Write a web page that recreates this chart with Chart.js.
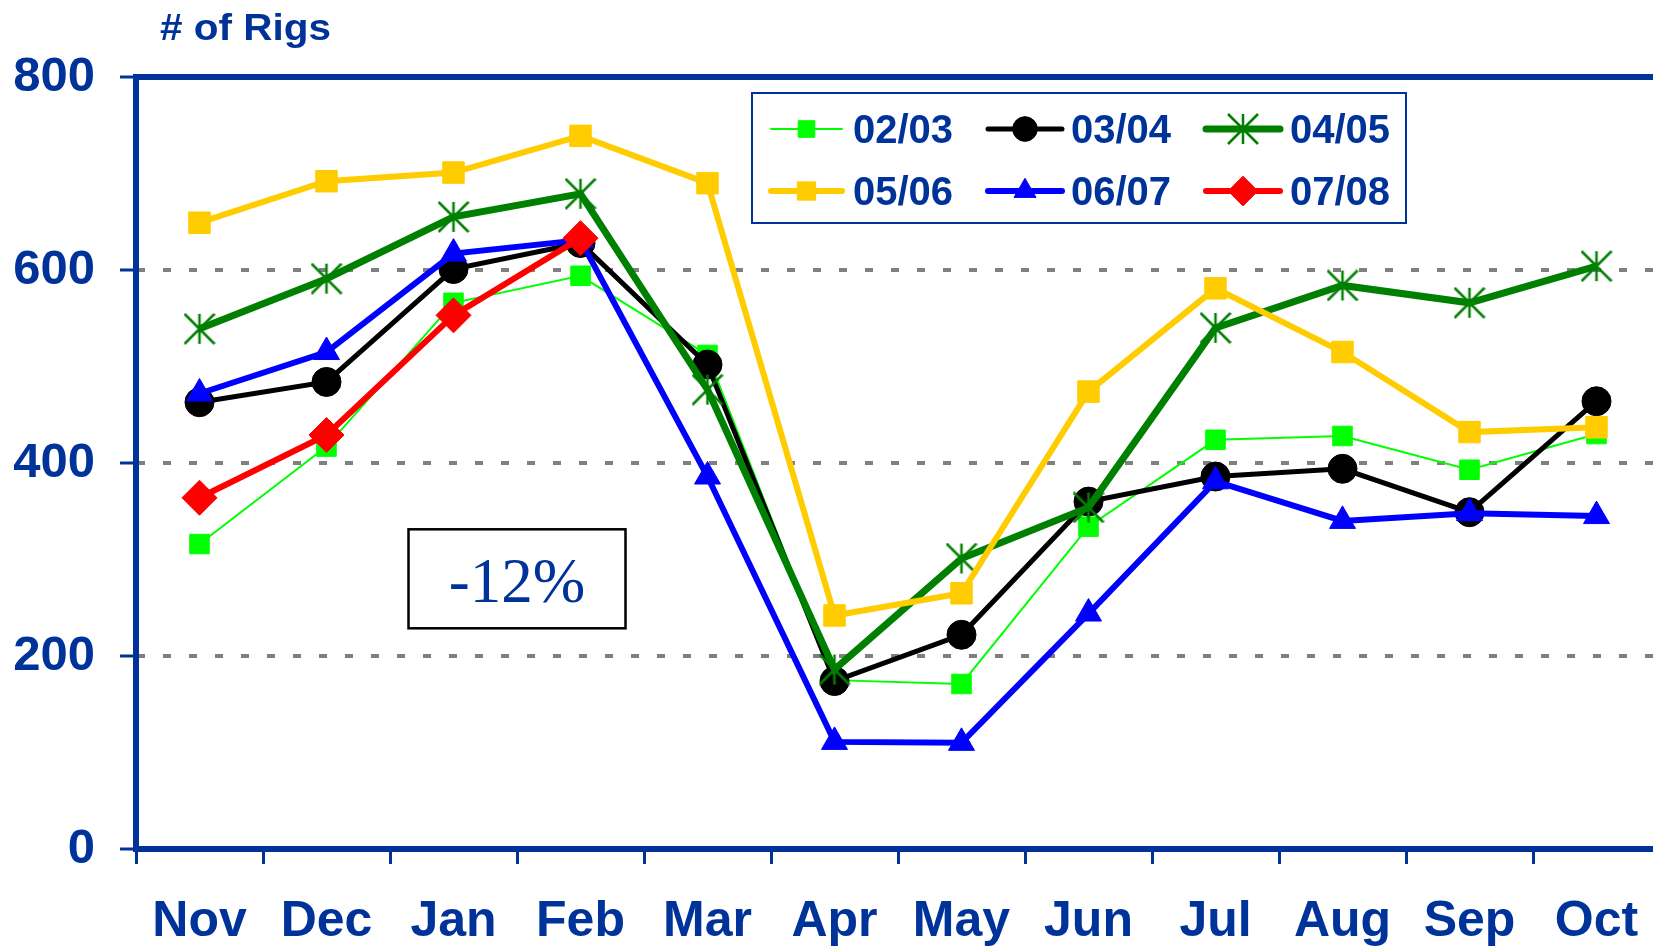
<!DOCTYPE html>
<html><head><meta charset="utf-8">
<script src="https://cdn.jsdelivr.net/npm/chart.js@4.4.0/dist/chart.umd.min.js"></script>
<style>html,body{margin:0;padding:0;overflow:hidden;background:#fff;width:1653px;height:948px}canvas{display:block}</style>
</head><body>
<canvas id="c" width="1680" height="948"></canvas>
<script>
const months = ['Nov','Dec','Jan','Feb','Mar','Apr','May','Jun','Jul','Aug','Sep','Oct'];
const seriesNames = ['02/03','03/04','04/05','05/06','06/07','07/08'];
const s0203 = [316,417,566,594,512,175,171,334,424,428,393,430];
const s0304 = [463,484,601,628,502,174,222,360,386,394,349,464];
const s0405 = [539,591,655,679,476,186,301,354,540,584,566,604];
const s0506 = [649,692,701,739,690,242,265,474,581,515,432,437];
const s0607 = [472,515,617,631,386,111,110,244,381,340,348,345];
const s0708 = [364,429,553,633];
const yMin = 0, yMax = 800, yStep = 200;
const yTitle = '# of Rigs';
const annotationText = '-12%';

const BLUE = '#003399';
const FONT = '"Liberation Sans", Arial, sans-serif';

function makeAsterisk(size, color, lw){
  const c = document.createElement('canvas'); c.width = c.height = size;
  const g = c.getContext('2d'); g.strokeStyle = color; g.lineWidth = lw; g.lineCap = 'butt';
  const m = 1, s = size;
  g.beginPath();
  g.moveTo(s/2, m); g.lineTo(s/2, s-m);
  g.moveTo(m, m); g.lineTo(s-m, s-m);
  g.moveTo(s-m, m); g.lineTo(m, s-m);
  g.stroke();
  return c;
}
const asterisk = makeAsterisk(32, '#008000', 2.5);

const styles = [
  {color:'#00FF00', width:2, pointStyle:'rect', radius:13.8},
  {color:'#000000', width:5, pointStyle:'circle', radius:14.5},
  {color:'#008000', width:7, pointStyle:asterisk, radius:16},
  {color:'#FFCC00', width:6, pointStyle:'rect', radius:15.2},
  {color:'#0000FF', width:6, pointStyle:'triangle', radius:15},
  {color:'#FF0000', width:6, pointStyle:'rectRot', radius:17.5}
];
const seriesData = [s0203, s0304, s0405, s0506, s0607, s0708];

const datasets = seriesNames.map((name, i) => ({
  label: name,
  data: seriesData[i],
  borderColor: styles[i].color,
  backgroundColor: styles[i].color,
  borderWidth: styles[i].width,
  pointStyle: styles[i].pointStyle,
  pointRadius: styles[i].radius,
  pointHoverRadius: styles[i].radius,
  pointBackgroundColor: styles[i].color,
  pointBorderColor: styles[i].color,
  pointBorderWidth: 1,
  tension: 0,
  fill: false,
  order: seriesNames.length - i
}));

const decor = {
  id: 'decor',
  afterDatasetsDraw(chart){
    const {ctx, chartArea: a, scales: {x, y}} = chart;
    ctx.save();
    // top frame line
    ctx.strokeStyle = BLUE; ctx.lineWidth = 6;
    ctx.beginPath(); ctx.moveTo(a.left - 3, a.top); ctx.lineTo(a.right, a.top); ctx.stroke();

    // title
    ctx.fillStyle = BLUE; ctx.font = 'bold 36px ' + FONT; ctx.textBaseline = 'alphabetic'; ctx.textAlign = 'left';
    const tw = ctx.measureText(yTitle).width;
    ctx.save(); ctx.translate(160, 40); ctx.scale(171 / tw, 1); ctx.fillText(yTitle, 0, 0); ctx.restore();

    // annotation box
    const cx = (x.getPixelForValue(2) + x.getPixelForValue(3)) / 2;
    const cy = y.getPixelForValue(280);
    const bw = 217, bh = 99;
    ctx.fillStyle = '#fff'; ctx.fillRect(cx - bw/2, cy - bh/2, bw, bh);
    ctx.strokeStyle = '#000'; ctx.lineWidth = 2.5; ctx.strokeRect(cx - bw/2, cy - bh/2, bw, bh);
    ctx.fillStyle = BLUE; ctx.font = '63px "Liberation Serif", "Times New Roman", serif';
    ctx.textAlign = 'center'; ctx.textBaseline = 'alphabetic';
    ctx.fillText(annotationText, cx, cy + 23);

    // legend
    const lx0 = 752, ly0 = 93, lx1 = 1406, ly1 = 223;
    ctx.fillStyle = '#fff'; ctx.fillRect(lx0, ly0, lx1 - lx0, ly1 - ly0);
    ctx.strokeStyle = BLUE; ctx.lineWidth = 2; ctx.strokeRect(lx0, ly0, lx1 - lx0, ly1 - ly0);
    const colL = [771, 988, 1206], colR = [842, 1062, 1280], colT = [853, 1071, 1290], rowY = [129, 191];
    chart.data.datasets.forEach((ds, i) => {
      const c = i % 3, r = Math.floor(i / 3);
      const yy = rowY[r];
      ctx.strokeStyle = ds.borderColor; ctx.lineWidth = ds.borderWidth; ctx.lineCap = 'round';
      ctx.beginPath(); ctx.moveTo(colL[c], yy); ctx.lineTo(colR[c], yy); ctx.stroke();
      ctx.lineCap = 'butt';
      ctx.fillStyle = ds.pointBackgroundColor; ctx.strokeStyle = ds.pointBorderColor; ctx.lineWidth = 1;
      Chart.helpers.drawPoint(ctx, {pointStyle: ds.pointStyle, radius: ds.pointRadius * 0.85, rotation: 0, borderWidth: 1}, (colL[c] + colR[c]) / 2, yy);
      ctx.fillStyle = BLUE; ctx.font = 'bold 40px ' + FONT; ctx.textAlign = 'left'; ctx.textBaseline = 'alphabetic';
      ctx.fillText(ds.label, colT[c], yy + 14);
    });
    ctx.restore();
  }
};

new Chart(document.getElementById('c'), {
  type: 'line',
  data: { labels: months, datasets },
  options: {
    responsive: false, animation: false, devicePixelRatio: 1,
    layout: { padding: { left: 0, right: 20, top: 77, bottom: 0 } },
    plugins: { legend: { display: false }, tooltip: { enabled: false } },
    scales: {
      x: {
        offset: true,
        grid: { offset: true, drawOnChartArea: false, tickColor: BLUE, tickWidth: 3, tickLength: 15 },
        border: { color: BLUE, width: 6 },
        ticks: { color: BLUE, font: { family: FONT, size: 50, weight: 'bold' }, padding: 28, maxRotation: 0, autoSkip: false },
        afterFit(s) { s.height = 99; }
      },
      y: {
        min: yMin, max: yMax,
        ticks: { stepSize: yStep, color: BLUE, font: { family: FONT, size: 49, weight: 'bold' }, padding: 25 },
        grid: {
          color: (c) => (c.tick && (c.tick.value === yMin || c.tick.value === yMax)) ? 'rgba(0,0,0,0)' : '#808080',
          lineWidth: 4, tickColor: BLUE, tickWidth: 3, tickLength: 16, tickBorderDash: []
        },
        border: { color: BLUE, width: 6, dash: [8, 18], dashOffset: 2 },
        afterFit(s) { s.width = 136; }
      }
    }
  },
  plugins: [decor]
});
</script>
</body></html>
